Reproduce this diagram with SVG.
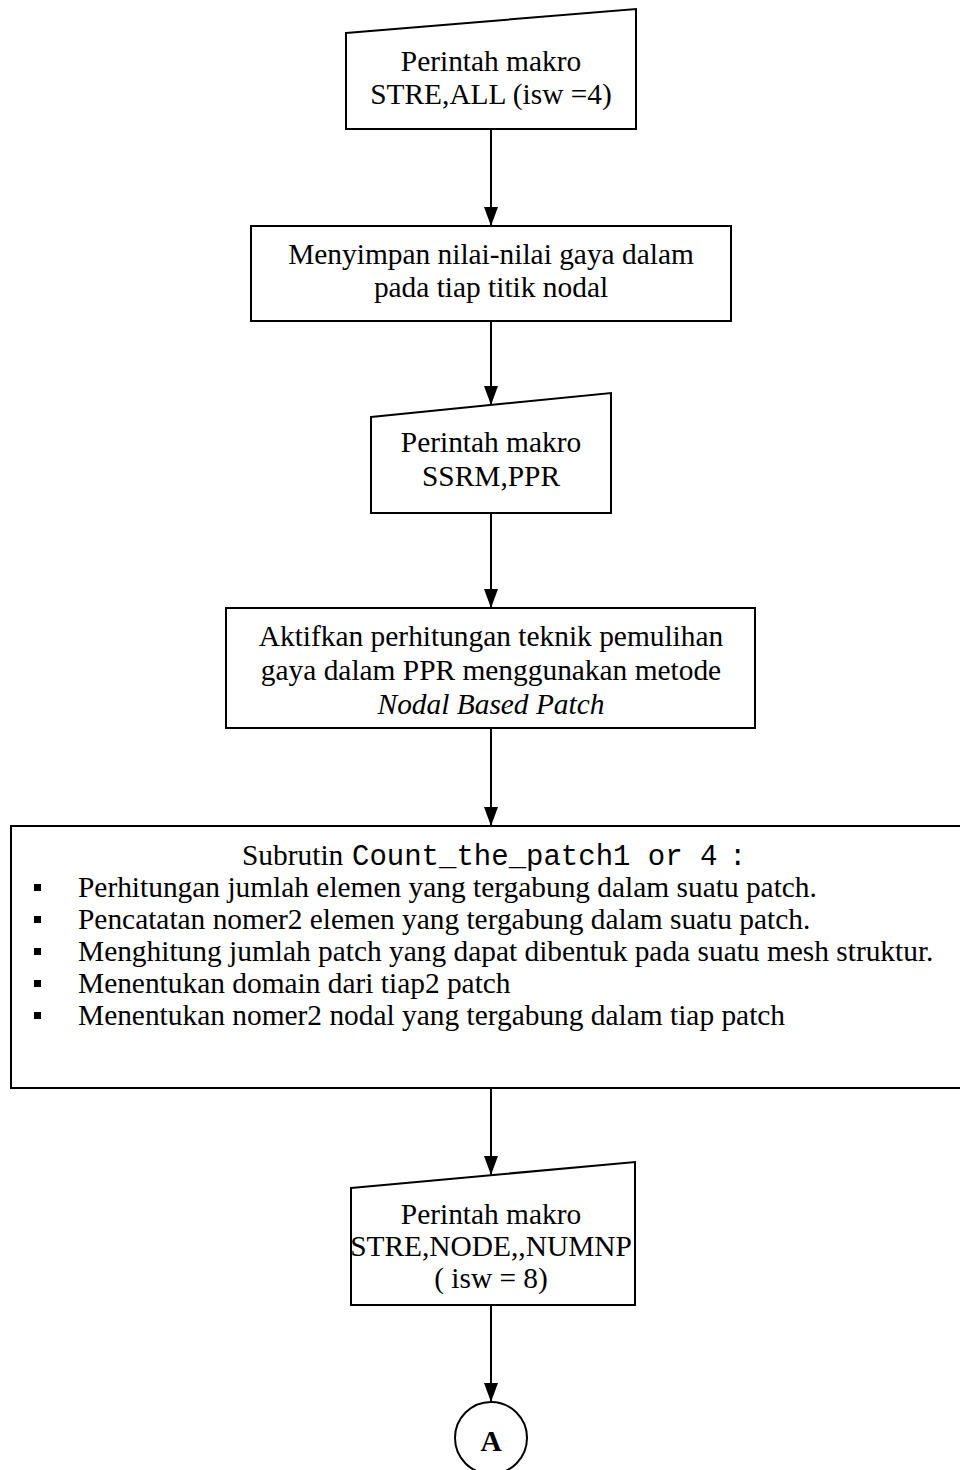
<svg xmlns="http://www.w3.org/2000/svg" width="960" height="1470" viewBox="0 0 960 1470">
<style>
.shape{fill:#fff;stroke:#000;stroke-width:2}
.t{font-family:"Liberation Serif","Times New Roman",serif;font-size:29.4px;fill:#000}
.c{text-anchor:middle}
.m{font-family:"Liberation Mono","Courier New",monospace;font-size:29px}
.conn{stroke:#000;stroke-width:2;fill:none;marker-end:url(#ah)}
</style>
<defs>
<marker id="ah" markerUnits="userSpaceOnUse" markerWidth="20" markerHeight="16" refX="19" refY="7" orient="auto">
<path d="M0,0 L19,7 L0,14 z" fill="#000"/>
</marker>
</defs>
<rect width="960" height="1470" fill="#fff"/>
<g id="connectors">
<line class="conn" x1="491" y1="129" x2="491" y2="226"/>
<line class="conn" x1="491" y1="321" x2="491" y2="405"/>
<line class="conn" x1="491" y1="513" x2="491" y2="608"/>
<line class="conn" x1="491" y1="728" x2="491" y2="826"/>
<line class="conn" x1="491" y1="1088" x2="491" y2="1175"/>
<line class="conn" x1="491" y1="1305" x2="491" y2="1402"/>
</g>
<g id="n1">
<polygon class="shape" points="346,33 636,9 636,129 346,129"/>
<text class="t c" x="491" y="71">Perintah makro</text>
<text class="t c" x="491" y="104">STRE,ALL (isw =4)</text>
</g>
<g id="n2">
<rect class="shape" x="251" y="226" width="480" height="95"/>
<text class="t c" x="491" y="264">Menyimpan nilai-nilai gaya dalam</text>
<text class="t c" x="491" y="297">pada tiap titik nodal</text>
</g>
<g id="n3">
<polygon class="shape" points="371,417 611,393 611,513 371,513"/>
<text class="t c" x="491" y="452">Perintah makro</text>
<text class="t c" x="491" y="486">SSRM,PPR</text>
</g>
<g id="n4">
<rect class="shape" x="226" y="608" width="529" height="120"/>
<text class="t c" x="491" y="646">Aktifkan perhitungan teknik  pemulihan</text>
<text class="t c" x="491" y="680">gaya dalam PPR menggunakan metode</text>
<text class="t c" x="491" y="714" font-style="italic">Nodal Based Patch</text>
</g>
<g id="n5">
<rect class="shape" x="11" y="826" width="960" height="262"/>
<text class="t" x="242" y="865" xml:space="preserve">Subrutin <tspan class="m" x="352">Count_the_patch1 or 4</tspan><tspan class="m" x="729">:</tspan></text>
<g fill="#000">
<rect x="34" y="884" width="7" height="7"/>
<rect x="34" y="916" width="7" height="7"/>
<rect x="34" y="948" width="7" height="7"/>
<rect x="34" y="980" width="7" height="7"/>
<rect x="34" y="1012" width="7" height="7"/>
</g>
<text class="t" x="78" y="897">Perhitungan jumlah elemen yang tergabung dalam suatu patch.</text>
<text class="t" x="78" y="929">Pencatatan nomer2 elemen yang tergabung dalam suatu patch.</text>
<text class="t" x="78" y="961">Menghitung jumlah patch yang dapat dibentuk pada suatu mesh struktur.</text>
<text class="t" x="78" y="993">Menentukan domain dari tiap2 patch</text>
<text class="t" x="78" y="1025">Menentukan nomer2 nodal yang tergabung dalam tiap patch</text>
</g>
<g id="n6">
<polygon class="shape" points="351,1188 635,1162 635,1305 351,1305"/>
<text class="t c" x="491" y="1224">Perintah makro</text>
<text class="t c" x="491" y="1256">STRE,NODE,,NUMNP</text>
<text class="t c" x="491" y="1288">( isw = 8)</text>
</g>
<g id="A">
<circle class="shape" cx="491" cy="1438" r="36"/>
<text class="t c" x="491" y="1451" font-weight="bold" font-size="34">A</text>
</g>
</svg>
